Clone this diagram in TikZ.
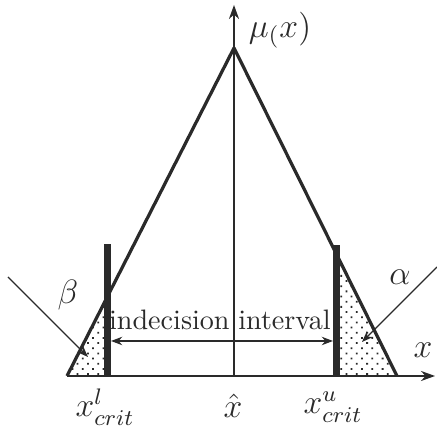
\documentclass[tikz,border=0pt]{standalone}
\usetikzlibrary{arrows.meta,patterns.meta}
\definecolor{inchiostro}{HTML}{2A2A2A}
\tikzset{
  asse/.style={draw=inchiostro, line width=0.45pt, -{Stealth[length=5pt,width=3.6pt]}},
  lato/.style={draw=inchiostro, line width=1.15pt, line join=round},
  sbarra/.style={fill=inchiostro},
  puntini/.style={pattern={Dots[distance=2.6pt,radius=0.45pt,angle=45]}, pattern color=inchiostro},
  freccina/.style={draw=inchiostro, line width=0.45pt, -{Stealth[length=4pt,width=3pt]}},
  etichetta/.style={text=inchiostro, inner sep=1pt, font=\large},
}

\begin{document}
\begin{tikzpicture}[x=0.0125cm,y=0.0125cm]

  % ---- Cornice (pixel del disegno originale, y verso l'alto) -------------
  \useasboundingbox (0,0) rectangle (437,431);

  % Punti della funzione triangolare
  \coordinate (picco) at (234,383);
  \coordinate (basesx) at (67,55);
  \coordinate (basedx) at (397,55);

  % ---- Zone puntinate (beta a sinistra, alpha a destra) ------------------
  \fill[puntini] (basesx) -- (104,55) -- (104,127.7) -- cycle;
  \fill[puntini] (340,169.7) -- (340,55) -- (basedx) -- cycle;

  % ---- Assi ----------------------------------------------------------------
  \draw[asse] (basesx) -- (435,55);
  \draw[asse] (234,55) -- (234,426);

  % ---- Triangolo di appartenenza -----------------------------------------
  \draw[lato] (basesx) -- (picco) -- (basedx);

  % ---- Barre critiche ------------------------------------------------------
  \fill[sbarra] (104,55) rectangle (111,187);
  \fill[sbarra] (333,55) rectangle (340,186);

  % ---- Intervallo di indecisione ------------------------------------------
  \draw[draw=inchiostro, line width=0.45pt, {Stealth[length=4pt,width=3pt]}-{Stealth[length=4pt,width=3pt]}]
    (111,90) -- (333,90);
  \node[anchor=east, text=inchiostro, inner sep=1pt] (indecisione) at (233,111) {indecision};
  \node[anchor=west, text=inchiostro, inner sep=1pt] (intervallo) at (235,111) {interval};

  % ---- Frecce di alpha e beta ----------------------------------------------
  \coordinate (betainizio) at (8,154);
  \coordinate (betapunta) at (88,74);
  \coordinate (alphainizio) at (437,164);
  \coordinate (alphapunta) at (362,89);
  \draw[freccina] (betainizio) -- (betapunta);
  \draw[freccina] (alphainizio) -- (alphapunta);
  \node[etichetta] (beta) at (68,136) {$\beta$};
  \node[etichetta] (alpha) at (400,154) {$\alpha$};

  % ---- Etichette degli assi ------------------------------------------------
  \node[etichetta] (mu) at (280,401) {$\mu_(x)$};
  \node[etichetta] (ascissa) at (423,81) {$x$};
  \node[etichetta] (xcritl) at (105,24) {$x^l_{crit}$};
  \node[etichetta] (xcappello) at (233,25) {$\hat{x}$};
  \node[etichetta] (xcritu) at (333,24) {$x^u_{crit}$};

\end{tikzpicture}
\end{document}
